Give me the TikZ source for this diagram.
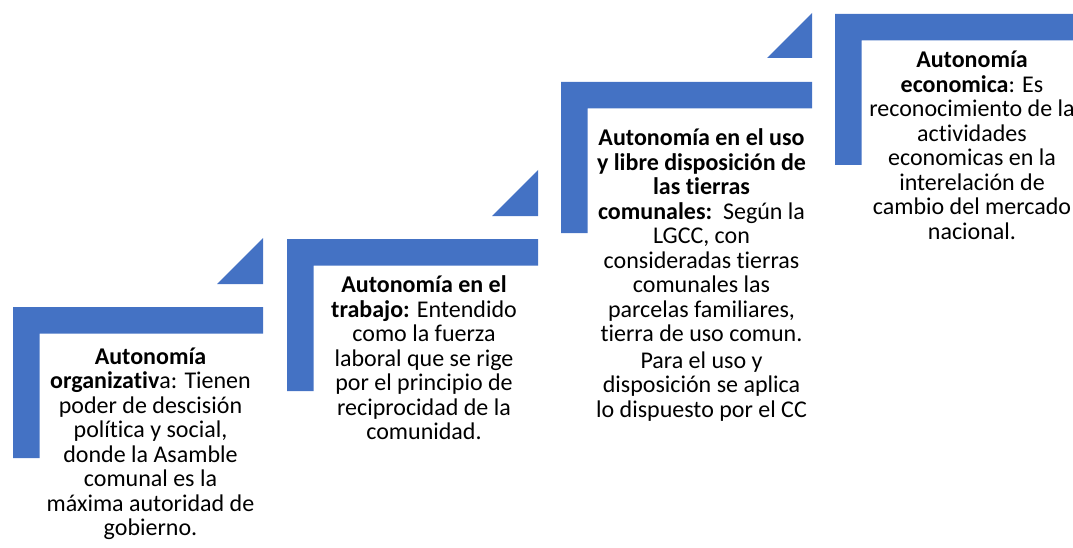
\documentclass[tikz,border=0pt]{standalone}
\usepackage{fontspec}
\setmainfont{Carlito}[RawFeature={-liga;-clig;-calt;-dlig}]
\definecolor{stepblue}{HTML}{4472C4}
\tikzset{
  stepshape/.style={fill=stepblue, draw=none},
  steptext/.style={anchor=base, inner sep=0pt, font=\fontsize{24}{24.5}\selectfont},
}
\newcommand{\stepL}[4]{% x0, top, x1, vbottom
  \fill[stepshape] (#1,#2) -- (#3,#2) -- (#3,#2+26.5) -- (#1+26.5,#2+26.5) -- (#1+26.5,#4) -- (#1,#4) -- cycle;}
\newcommand{\stepT}[3]{% right x, base y, size
  \fill[stepshape] (#1-#3,#2) -- (#1,#2) -- (#1,#2-#3) -- cycle;}
\begin{document}
\begin{tikzpicture}[x=1pt,y=-1pt]
\useasboundingbox (0,0) rectangle (1073,548);
\clip (0,0) rectangle (1073,548);
% steps
\stepL{13}{307}{263}{458}
\stepT{263}{284}{46}
\stepL{287}{239}{538}{391}
\stepT{538}{216}{46}
\stepL{561}{82}{812}{233}
\stepT{812}{58}{45}
\stepL{835}{14}{1090}{165}
% texts
\node[steptext] (t1) at (150.5,364) {\begin{tabular}[t]{@{}c@{}}
\textbf{Autonomía}\\
\textbf{organizativ}a: Tienen\\
poder de descisión\\
política y social,\\
donde la Asamble\\
comunal es la\\
máxima autoridad de\\
gobierno.\end{tabular}};
\node[steptext] (t2) at (424,292.5) {\begin{tabular}[t]{@{}c@{}}
\textbf{Autonomía en el}\\
\textbf{trabajo:} Entendido\\
como la fuerza\\
laboral que se rige\\
por el principio de\\
reciprocidad de la\\
comunidad.\end{tabular}};
\node[steptext] (t3) at (701.5,146) {\begin{tabular}[t]{@{}c@{}}
\textbf{Autonomía en el uso}\\
\textbf{y libre disposición de}\\
\textbf{las tierras}\\
\textbf{comunales:}\ \ Según la\\
LGCC, con\\
consideradas tierras\\
comunales las\\
parcelas familiares,\\
tierra de uso comun.\\[2pt]
Para el uso y\\
disposición se aplica\\
lo dispuesto por el CC\end{tabular}};
\node[steptext] (t4) at (972,68) {\begin{tabular}[t]{@{}c@{}}
\textbf{Autonomía}\\
\textbf{economica}: Es\\
reconocimiento de la\\
actividades\\
economicas en la\\
interelación de\\
cambio del mercado\\
nacional.\end{tabular}};
\end{tikzpicture}
\end{document}
